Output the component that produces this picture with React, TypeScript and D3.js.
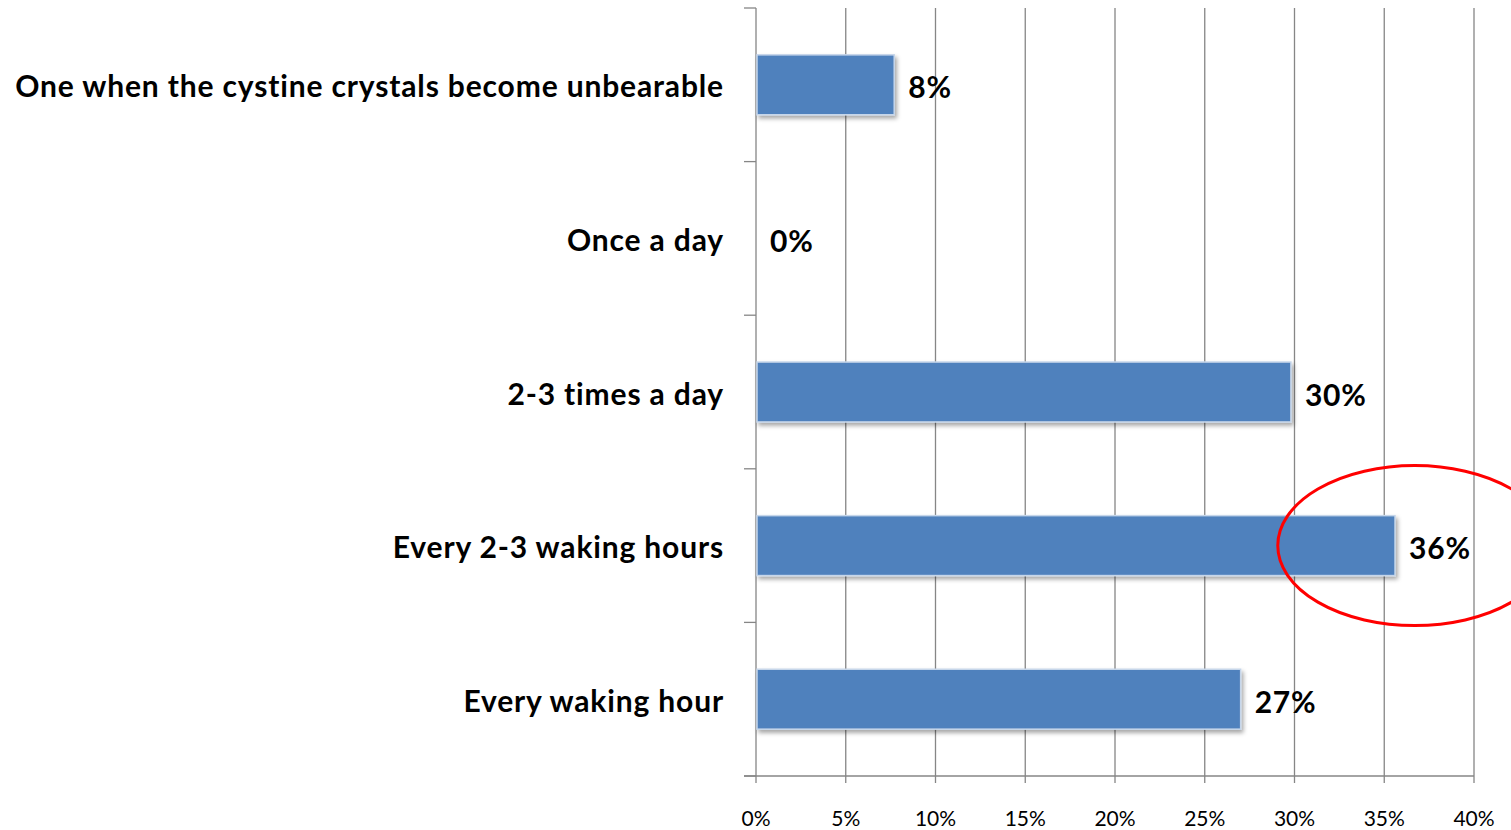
import React from "react";
import * as d3 from "d3";

const categories = [
  "One when the cystine crystals become unbearable",
  "Once a day",
  "2-3 times a day",
  "Every 2-3 waking hours",
  "Every waking hour",
];
const values = [0.077, 0, 0.298, 0.356, 0.27];
const xTicks = [0, 0.05, 0.1, 0.15, 0.2, 0.25, 0.3, 0.35, 0.4];
const highlighted = "Every 2-3 waking hours";

const W = 1511;
const H = 830;

export default function App() {
  const x = d3.scaleLinear().domain([0, 0.4]).range([756, 1474]);
  const y = d3
    .scaleBand<string>()
    .domain(categories)
    .range([8, 776])
    .paddingInner(0.61)
    .paddingOuter(0.305);
  const step = y.step();
  const axisColor = "#868686";
  const fmt = (v: number) => `${Math.round(v * 100)}%`;
  const font = "Lato, 'Open Sans', sans-serif";

  return (
    <div style={{ position: "absolute", left: 0, top: 0 }}>
      <svg width={W} height={H} style={{ display: "block", background: "#fff" }}>
        <defs>
          <filter id="shadow" x="-5%" y="-20%" width="110%" height="150%">
            <feDropShadow dx="2" dy="3" stdDeviation="2" floodColor="#000" floodOpacity="0.35" />
          </filter>
        </defs>
        {/* gridlines */}
        {xTicks.slice(1).map((t) => (
          <line key={t} x1={x(t)} x2={x(t)} y1={8} y2={776} stroke={axisColor} strokeWidth={1.3} />
        ))}
        {/* y axis */}
        <line x1={x(0)} x2={x(0)} y1={8} y2={776} stroke={axisColor} strokeWidth={1.3} />
        {d3.range(categories.length + 1).map((i) => (
          <line key={i} x1={744} x2={x(0)} y1={8 + i * step} y2={8 + i * step} stroke={axisColor} strokeWidth={1.3} />
        ))}
        {/* x axis */}
        <line x1={744} x2={x(0.4)} y1={776} y2={776} stroke={axisColor} strokeWidth={1.3} />
        {xTicks.map((t) => (
          <line key={t} x1={x(t)} x2={x(t)} y1={776} y2={783} stroke={axisColor} strokeWidth={1.3} />
        ))}
        {xTicks.map((t) => (
          <text key={t} x={x(t)} y={826} textAnchor="middle" fontFamily={font} fontSize={21} fill="#000">
            {fmt(t)}
          </text>
        ))}
        {/* bars */}
        {categories.map((c, i) =>
          values[i] > 0 ? (
            <rect
              key={c}
              x={x(0) + 1}
              y={y(c)!}
              width={x(values[i]) - x(0) - 1}
              height={y.bandwidth()}
              fill="#4F81BD"
              stroke="#C6D6EA"
              strokeWidth={1.5}
              filter="url(#shadow)"
            />
          ) : null
        )}
        {/* value labels */}
        {categories.map((c, i) => (
          <text
            key={c}
            x={x(values[i]) + 14}
            y={y(c)! + y.bandwidth() / 2}
            dy="0.45em"
            fontFamily={font}
            fontWeight={700}
            fontSize={30}
            letterSpacing={0.8}
            fill="#000"
          >
            {fmt(values[i])}
          </text>
        ))}
        {/* category labels */}
        {categories.map((c) => (
          <text
            key={c}
            x={724}
            y={y(c)! + y.bandwidth() / 2}
            dy="0.42em"
            textAnchor="end"
            fontFamily={font}
            fontWeight={700}
            fontSize={30}
            letterSpacing={0.85}
            fill="#000"
          >
            {c}
          </text>
        ))}
        {/* highlight ellipse */}
        <ellipse
          cx={x(0.367)}
          cy={y(highlighted)! + y.bandwidth() / 2}
          rx={137}
          ry={80}
          fill="none"
          stroke="#FF0000"
          strokeWidth={3}
        />
      </svg>
    </div>
  );
}
